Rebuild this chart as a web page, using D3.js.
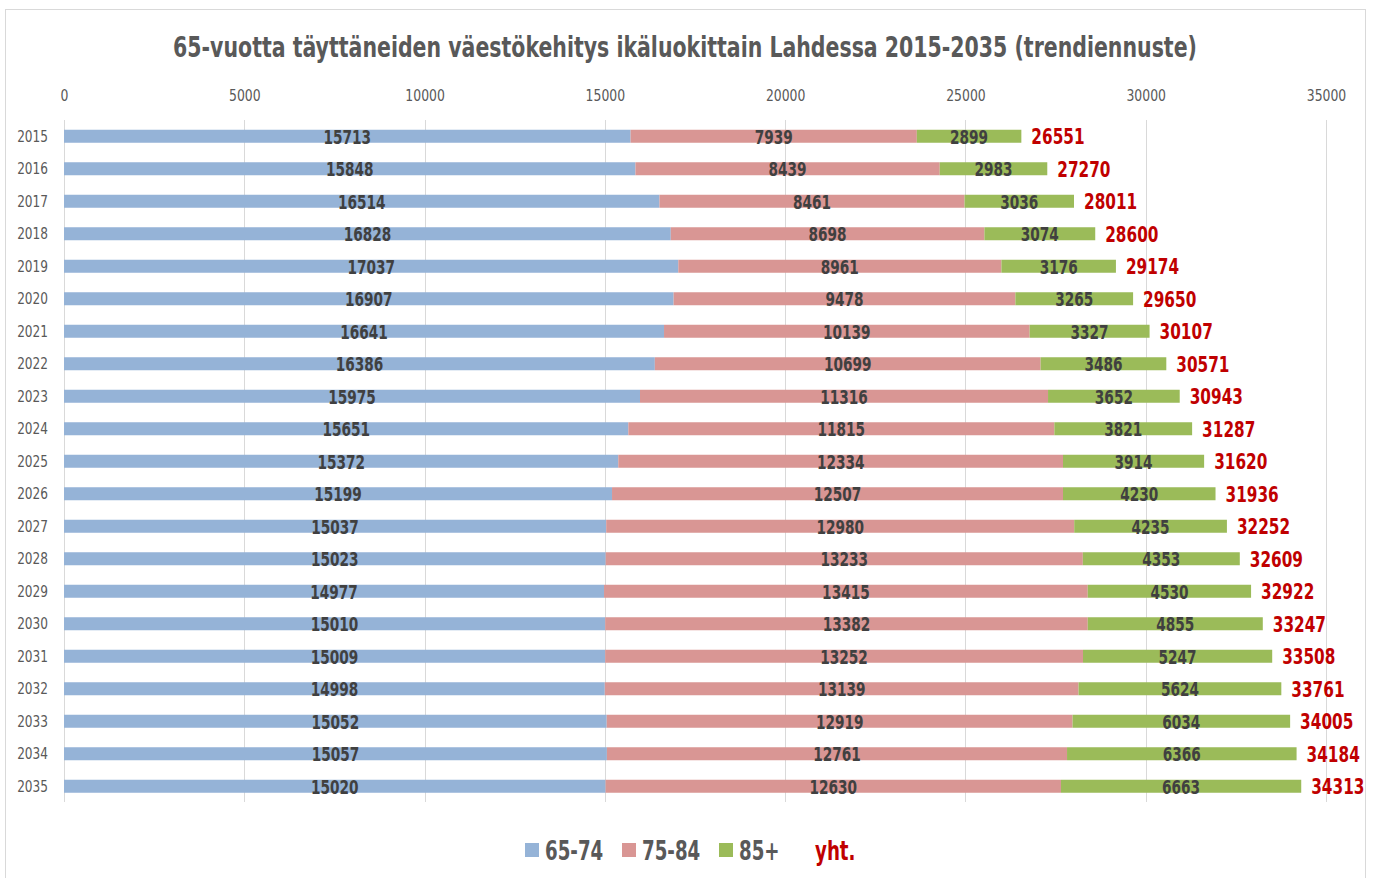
<!DOCTYPE html>
<html><head><meta charset="utf-8">
<script src="https://cdn.jsdelivr.net/npm/d3@7"></script>
<style>
html,body{margin:0;padding:0;background:#fff;}
svg text{font-family:"Liberation Sans Narrow","DejaVu Sans Condensed","DejaVu Sans",sans-serif;}
</style></head>
<body><svg id="chart" width="1376" height="878"></svg>
<script>
const years = ["2015","2016","2017","2018","2019","2020","2021","2022","2023","2024","2025","2026","2027","2028","2029","2030","2031","2032","2033","2034","2035"];
const age6574 = [15713,15848,16514,16828,17037,16907,16641,16386,15975,15651,15372,15199,15037,15023,14977,15010,15009,14998,15052,15057,15020];
const age7584 = [7939,8439,8461,8698,8961,9478,10139,10699,11316,11815,12334,12507,12980,13233,13415,13382,13252,13139,12919,12761,12630];
const age85 = [2899,2983,3036,3074,3176,3265,3327,3486,3652,3821,3914,4230,4235,4353,4530,4855,5247,5624,6034,6366,6663];
const totals = [26551,27270,28011,28600,29174,29650,30107,30571,30943,31287,31620,31936,32252,32609,32922,33247,33508,33761,34005,34184,34313];
const seriesNames = ["65-74","75-84","85+"];
const totalName = "yht.";
const xTicks = [0,5000,10000,15000,20000,25000,30000,35000];
const titleText = "65-vuotta täyttäneiden väestökehitys ikäluokittain Lahdessa 2015-2035 (trendiennuste)";

const colors = ["#95B3D7","#D99694","#9BBB59"];
const red = "#C00000";
const grey = "#595959";
const labelGrey = "#404040";

const svg = d3.select("#chart");
svg.append("rect").attr("x",5.5).attr("y",9.5).attr("width",1360).attr("height",900)
  .attr("fill","#fff").attr("stroke","#D9D9D9");

// place a horizontally condensed text
function ctext(parent, px, py, sx, str){
  return parent.append("text").attr("transform",`translate(${px},${py}) scale(${sx},1)`).text(str);
}

ctext(svg, 685, 57, 0.814, titleText).attr("text-anchor","middle")
  .attr("font-size",28).attr("font-weight","bold").attr("fill",grey);

const x = d3.scaleLinear().domain([0,35000]).range([64,1326]);
const y = d3.scaleBand().domain(years).range([120,802.5]).paddingInner(0.6).paddingOuter(0.3);

// grid
svg.append("g").selectAll("line").data(xTicks).join("line")
  .attr("x1",d=>Math.round(x(d))+0.5).attr("x2",d=>Math.round(x(d))+0.5)
  .attr("y1",120).attr("y2",802).attr("stroke","#D9D9D9").attr("stroke-width",1);

// top axis
const ax = svg.append("g").attr("transform","translate(0,101)")
  .call(d3.axisTop(x).tickValues(xTicks).tickFormat(d3.format("d")).tickSize(0).tickPadding(0));
ax.select(".domain").remove();
ax.selectAll("text").attr("font-size",15).attr("fill",grey).attr("font-family",null)
  .attr("transform","scale(0.92,1)");

// left axis
const ay = svg.append("g").attr("transform","translate(48,0)")
  .call(d3.axisLeft(y).tickSize(0).tickPadding(0));
ay.select(".domain").remove();
ay.selectAll("text").attr("font-size",15).attr("fill",grey).attr("font-family",null)
  .attr("dy","0.36em").attr("transform","scale(0.9,1)");

// stacked data
const stackData = years.map((yr,i)=>({year:yr, a:age6574[i], b:age7584[i], c:age85[i]}));
const stack = d3.stack().keys(["a","b","c"])(stackData);

stack.forEach((layer,li)=>{
  svg.append("g").selectAll("rect").data(layer).join("rect")
    .attr("x",d=>x(d[0])).attr("width",d=>x(d[1])-x(d[0]))
    .attr("y",d=>y(d.data.year)).attr("height",y.bandwidth())
    .attr("fill",colors[li]);
});
stack.forEach((layer)=>{
  svg.append("g").selectAll("text").data(layer).join("text")
    .attr("transform",d=>`translate(${(x(d[0])+x(d[1]))/2},${y(d.data.year)+y.bandwidth()/2+7.5}) scale(0.8,1)`)
    .attr("text-anchor","middle").attr("font-size",19).attr("font-weight","bold")
    .attr("fill",labelGrey).text(d=>d[1]-d[0]);
});
// totals (yht.)
const totRows = years.map((yr,i)=>({year:yr, total:totals[i]}));
svg.append("g").selectAll("text").data(totRows).join("text")
  .attr("transform",d=>`translate(${x(d.total)+10},${y(d.year)+y.bandwidth()/2+8}) scale(0.81,1)`)
  .attr("font-size",21).attr("font-weight","bold").attr("fill",red)
  .text(d=>d.total);

// legend
const legendItems = [
  {name:seriesNames[0], color:colors[0], x:525},
  {name:seriesNames[1], color:colors[1], x:622},
  {name:seriesNames[2], color:colors[2], x:719}
];
const leg = svg.append("g");
legendItems.forEach(it=>{
  leg.append("rect").attr("x",it.x).attr("y",843).attr("width",14).attr("height",14).attr("fill",it.color);
  ctext(leg, it.x+20, 860, 0.75, it.name).attr("font-size",27).attr("font-weight","bold").attr("fill",grey);
});
ctext(leg, 815, 860, 0.78, totalName).attr("font-size",26).attr("font-weight","bold").attr("fill",red);
</script></body></html>
